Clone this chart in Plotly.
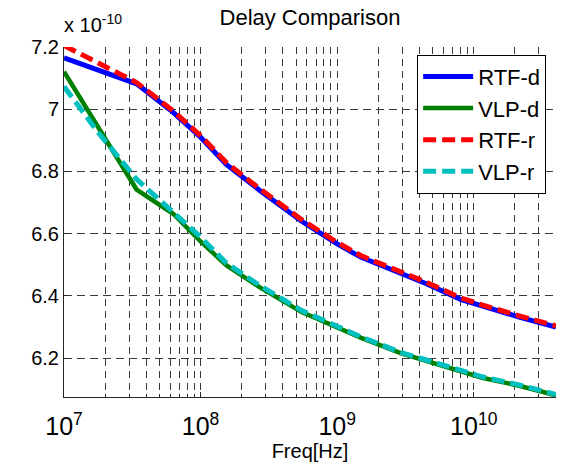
import numpy as np
import plotly.graph_objects as go

# Frequencies [Hz]
freq_d = [1e7, 3.4e7, 6.3e7, 1e8, 1.55e8, 2.7e8, 5.5e8, 1e9, 1.5e9, 2.95e9,
          4.5e9, 8e9, 1.15e10, 2.15e10, 4e10]
freq_r = [1e7, 1.8e7, 3.4e7, 6.3e7, 1e8, 1.55e8, 2.7e8, 5.5e8, 1e9, 1.5e9,
          2.95e9, 4.5e9, 8e9, 1.15e10, 2.15e10, 4e10]

# Delay values in units of 1e-10 s
rtf_d = [7.165, 7.082, 6.990, 6.910, 6.822, 6.740, 6.640, 6.567, 6.524, 6.471,
         6.439, 6.389, 6.367, 6.332, 6.300]
vlp_d = [7.121, 6.742, 6.664, 6.575, 6.498, 6.428, 6.348, 6.300, 6.265, 6.215,
         6.191, 6.161, 6.137, 6.111, 6.080]
rtf_r = [7.205, 7.149, 7.086, 6.995, 6.915, 6.828, 6.745, 6.645, 6.572, 6.529,
         6.476, 6.444, 6.394, 6.371, 6.336, 6.304]
vlp_r = [7.073, 6.923, 6.775, 6.668, 6.589, 6.505, 6.434, 6.353, 6.303, 6.268,
         6.218, 6.194, 6.164, 6.140, 6.114, 6.083]

y_ticks = [6.2, 6.4, 6.6, 6.8, 7.0, 7.2]
y_tick_text = ["6.2", "6.4", "6.6", "6.8", "7", "7.2"]

FONT = "Liberation Sans, Arial, Helvetica, sans-serif"
DASH = "13px,6px"
GRID_DASH = "7px,5px"
GRID_COLOR = "#3a3a3a"

fig = go.Figure()
fig.add_trace(go.Scatter(x=freq_d, y=rtf_d, mode="lines", name="RTF-d",
                         line=dict(color="#0000FF", width=5)))
fig.add_trace(go.Scatter(x=freq_d, y=vlp_d, mode="lines", name="VLP-d",
                         line=dict(color="#008000", width=4.5)))
fig.add_trace(go.Scatter(x=freq_r, y=rtf_r, mode="lines", name="RTF-r",
                         line=dict(color="#FF0000", width=5, dash=DASH)))
fig.add_trace(go.Scatter(x=freq_r, y=vlp_r, mode="lines", name="VLP-r",
                         line=dict(color="#00BFBF", width=5, dash=DASH)))

fig.update_layout(
    width=569, height=464,
    margin=dict(l=64, r=13, t=47, b=67, autoexpand=False),
    paper_bgcolor="white", plot_bgcolor="white",
    font=dict(family=FONT, size=20, color="black"),
    title=dict(text="Delay Comparison", x=0.5, xref="paper", xanchor="center",
               y=0.962, yref="container", yanchor="middle",
               font=dict(size=22, family=FONT, color="black")),
    showlegend=True,
    legend=dict(x=0.98, xanchor="right", y=0.978, yanchor="top",
                bgcolor="white", bordercolor="black", borderwidth=1,
                font=dict(size=22, family=FONT, color="black"),
                itemwidth=50, tracegroupgap=0),
    annotations=[dict(text="x 10<sup>-10</sup>", xref="paper", yref="paper",
                      x=0, y=1, xanchor="left", yanchor="bottom",
                      xshift=-2, yshift=9, showarrow=False,
                      font=dict(size=20, family=FONT, color="black"))],
)

fig.update_xaxes(
    type="log", range=[7, np.log10(4e10) + 0.0003],
    dtick=1, exponentformat="power", automargin=False,
    showline=True, linecolor="#262626", linewidth=1, mirror=False,
    ticks="inside", ticklen=5, tickcolor="#262626",
    ticklabelstandoff=8,
    showgrid=True, gridcolor=GRID_COLOR, griddash=GRID_DASH, gridwidth=1,
    minor=dict(ticks="inside", ticklen=3, tickcolor="#262626",
               showgrid=True, gridcolor=GRID_COLOR, griddash=GRID_DASH, gridwidth=1),
    zeroline=False,
    title=dict(text="Freq[Hz]", font=dict(size=20, family=FONT), standoff=0),
    tickfont=dict(size=20, family=FONT),
)
fig.update_yaxes(
    range=[6.075, 7.2002], automargin=False,
    tickvals=y_ticks, ticktext=y_tick_text,
    showline=True, linecolor="#262626", linewidth=1, mirror=False,
    ticks="inside", ticklen=5, tickcolor="#262626",
    showgrid=True, gridcolor=GRID_COLOR, griddash="8px,5px", gridwidth=1,
    zeroline=False,
    tickfont=dict(size=20, family=FONT),
)

fig.write_html("out.html")
